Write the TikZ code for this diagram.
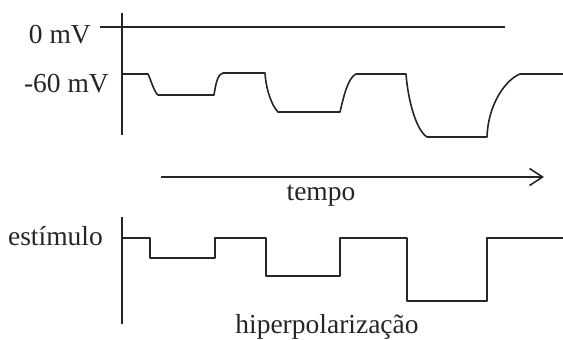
\documentclass[tikz,border=0pt]{standalone}
\usepackage{fontspec}
\setmainfont{Liberation Serif}
\usetikzlibrary{arrows.meta}
\begin{document}
\begin{tikzpicture}[x=1pt,y=-1pt,
  trace/.style={line width=1.6pt,draw=black!85,line join=round},
  axis/.style={line width=1.6pt,draw=black!85},
  lbl/.style={inner sep=0pt,text=black!85,font=\fontsize{27.5}{30}\selectfont}]
\useasboundingbox (0,0) rectangle (563,340);
% axes
\coordinate (topaxA) at (122,13);
\coordinate (topaxB) at (122,135);
\coordinate (zeroA) at (100,27);
\coordinate (zeroB) at (505,27);
\coordinate (timeA) at (161,177);
\coordinate (timeB) at (544,177);
\coordinate (botaxA) at (122,217);
\coordinate (botaxB) at (122,324);
\draw[axis] (topaxA) -- (topaxB);
\draw[axis] (zeroA) -- (zeroB);
\draw[axis,-{Straight Barb[length=13pt,width=17pt,line width=1.6pt]}] (timeA) -- (timeB);
\draw[axis] (botaxA) -- (botaxB);
% labels
\node[lbl,anchor=base east] (zero) at (91,43) {0 mV};
\node[lbl,anchor=base east] (sixty) at (109,92) {-60 mV};
\node[lbl,anchor=base] (tempo) at (321,200) {tempo};
\node[lbl,anchor=base east] (estim) at (103,245) {estímulo};
\node[lbl,anchor=base] (hiper) at (327,333) {hiperpolarização};
% membrane potential trace
\draw[trace] (122,74) -- (148,74) .. controls (151,80) and (154,92) .. (158,95)
  -- (214,95) .. controls (216,82) and (218,74) .. (223,73)
  -- (265,73) .. controls (266,90) and (272,106) .. (278,112)
  -- (340,112) .. controls (344,95) and (348,78) .. (356,74)
  -- (406,74) .. controls (408,100) and (416,130) .. (427,137)
  -- (487,137) .. controls (488,105) and (505,80) .. (520,74)
  -- (563,74);
% stimulus trace
\draw[trace] (122,238) -- (150,238) -- (150,258) -- (215,258) -- (215,238)
  -- (266,238) -- (266,276) -- (340,276) -- (340,238) -- (407,238)
  -- (407,301) -- (487,301) -- (487,238) -- (563,238);
\end{tikzpicture}
\end{document}
